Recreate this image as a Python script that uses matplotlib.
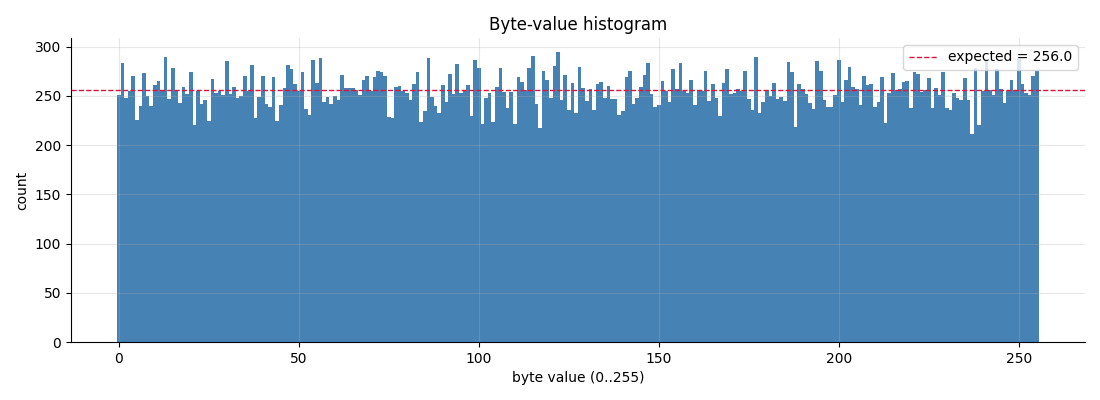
import numpy as np
import matplotlib
matplotlib.use("Agg")
import matplotlib.pyplot as plt

# counts per byte value
counts = [
    251, 283, 248, 255, 270, 225, 240, 273, 250, 240, 261, 265, 256, 289, 247, 278,
    255, 243, 259, 252, 274, 220, 255, 242, 246, 224, 267, 253, 255, 251, 285, 252,
    259, 248, 250, 270, 255, 281, 227, 249, 270, 242, 239, 269, 224, 241, 258, 281,
    277, 262, 255, 274, 237, 231, 286, 263, 288, 244, 249, 242, 250, 246, 271, 258,
    258, 258, 256, 251, 266, 270, 255, 269, 275, 274, 270, 228, 227, 259, 260, 255,
    253, 246, 262, 274, 223, 235, 288, 249, 240, 233, 261, 244, 272, 252, 282, 253,
    256, 261, 230, 286, 278, 221, 248, 253, 223, 259, 278, 254, 238, 254, 221, 269,
    264, 256, 278, 290, 242, 217, 275, 266, 248, 280, 294, 246, 271, 236, 263, 233,
    279, 258, 245, 257, 236, 262, 264, 248, 260, 247, 247, 231, 235, 269, 275, 242,
    248, 259, 271, 283, 252, 239, 241, 265, 255, 244, 277, 257, 283, 255, 253, 266,
    241, 256, 255, 275, 245, 262, 248, 230, 263, 277, 252, 253, 257, 255, 275, 247,
    236, 289, 233, 244, 256, 250, 263, 247, 249, 245, 284, 274, 218, 262, 257, 252,
    243, 237, 285, 275, 246, 239, 239, 251, 286, 244, 266, 279, 259, 257, 241, 270,
    261, 262, 239, 244, 269, 222, 253, 273, 256, 257, 264, 265, 238, 274, 272, 254,
    256, 268, 238, 258, 251, 274, 238, 236, 253, 248, 246, 268, 246, 211, 278, 220,
    255, 286, 256, 251, 277, 257, 243, 255, 266, 256, 287, 262, 253, 251, 270, 275,
]
byte_values = np.arange(256)
expected = 256.0

fig, ax = plt.subplots(figsize=(11, 4), dpi=100)
fig.subplots_adjust(left=0.0645, right=0.986, bottom=0.145, top=0.905)

ax.bar(byte_values, counts, width=1.0, color="steelblue")
ax.axhline(expected, color="crimson", linestyle="--", linewidth=1,
           label=f"expected = {expected:.1f}")

ax.set_title("Byte-value histogram")
ax.set_xlabel("byte value (0..255)")
ax.set_ylabel("count")
ax.grid(alpha=0.3)
ax.spines["top"].set_visible(False)
ax.spines["right"].set_visible(False)
ax.legend(loc="upper right")

fig.savefig("out.png")
